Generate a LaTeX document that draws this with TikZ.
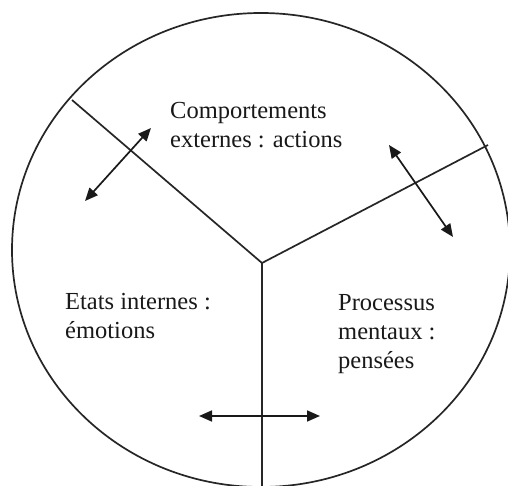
\documentclass[tikz,border=0pt]{standalone}
\usepackage{fontspec}
\setmainfont{Liberation Serif}
\usetikzlibrary{arrows.meta}
\begin{document}
\begin{tikzpicture}[x=1pt,y=-1pt,
  line/.style={draw=black!85, line width=1.7pt},
  dbl/.style={draw=black!90, line width=1.7pt, {Triangle[length=13pt,width=11pt]}-{Triangle[length=13pt,width=11pt]}},
  lbl/.style={anchor=base west, inner sep=0pt, align=left, text=black!90,
    font=\fontsize{24.5}{29}\selectfont}]
\useasboundingbox (0,0) rectangle (508,486);
\fill[white] (0,0) rectangle (508,486);
\clip (0,0) rectangle (508,486);
\draw[line] (261,250) ellipse [x radius=249pt, y radius=237pt];
\coordinate (c) at (262,263);
\coordinate (ul) at (72,100);
\coordinate (ur) at (488,145);
\coordinate (bt) at (262,490);
\draw[line] (ul) -- (c) -- (ur);
\draw[line] (c) -- (bt);
\coordinate (a1) at (85,201);
\coordinate (a2) at (151,128);
\coordinate (b1) at (389,145);
\coordinate (b2) at (453,237);
\coordinate (d1) at (199,416);
\coordinate (d2) at (320,416);
\draw[dbl] (a1) -- (a2);
\draw[dbl] (b1) -- (b2);
\draw[dbl] (d1) -- (d2);
\node[lbl] (t1) at (170,148) {Comportements\\externes : actions};
\node[lbl] (t2) at (65,338) {Etats internes :\\émotions};
\node[lbl] (t3) at (338,368) {Processus\\mentaux :\\pensées};
\end{tikzpicture}
\end{document}
